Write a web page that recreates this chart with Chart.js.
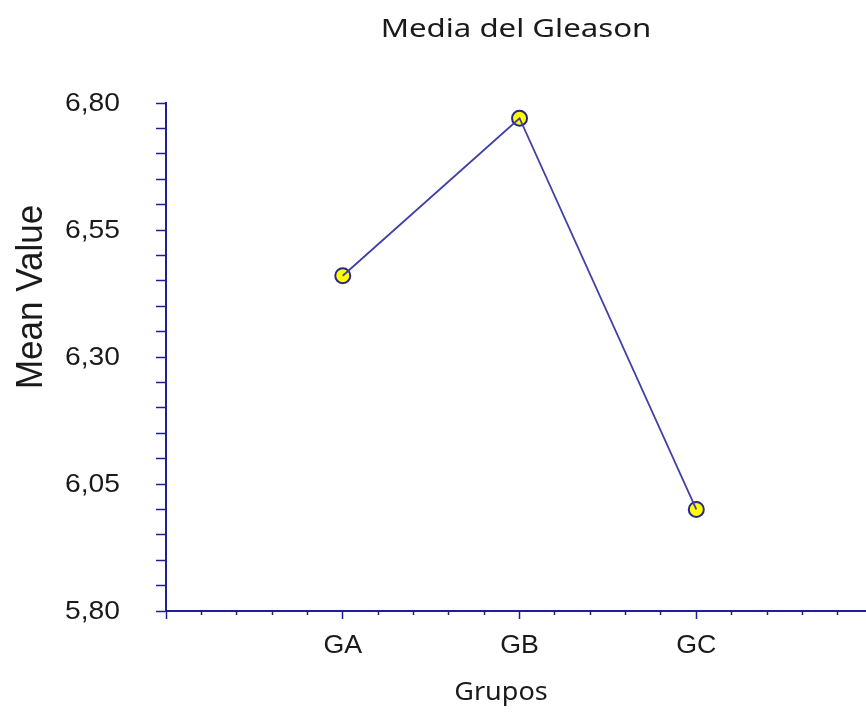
<!DOCTYPE html>
<html>
<head>
<meta charset="utf-8">
<title>Media del Gleason</title>
<script src="https://cdn.jsdelivr.net/npm/chart.js@4/dist/chart.umd.min.js"></script>
<style>
  html, body { margin: 0; padding: 0; background: #ffffff; }
  #wrap { width: 866px; height: 713px; position: relative; }
</style>
</head>
<body>
<div id="wrap"><canvas id="chart" width="866" height="713"></canvas></div>
<script>
// Chart text
const chartTitle = 'Media del Gleason';
const xAxisTitle = 'Grupos';
const yAxisTitle = 'Mean Value';

// Groups and their mean Gleason score
const categories = ['GA', 'GB', 'GC'];
const meanValues = [6.46, 6.77, 6.00];

// Y axis labelled ticks
const yTickValues = [5.80, 6.05, 6.30, 6.55, 6.80];
const yTickLabels = ['5,80', '6,05', '6,30', '6,55', '6,80'];

// Styling
const axisColor = '#1f1f94';
const lineColor = '#4040a8';
const markerFill = '#ffff00';
const markerEdge = '#26268c';
const textColor = '#1a1a1a';

// Category positions on the numeric x axis (GA = 1, GB = 2, GC = 3)
const points = categories.map((c, i) => ({ x: i + 1, y: meanValues[i] }));

// Draws a label with an optional horizontal stretch and rotation
function drawLabel(ctx, text, x, y, o) {
  ctx.save();
  ctx.font = o.font;
  ctx.fillStyle = textColor;
  ctx.textAlign = o.align || 'center';
  ctx.textBaseline = o.baseline || 'alphabetic';
  ctx.translate(x, y);
  ctx.scale(o.sx || 1, 1);
  if (o.rotate) ctx.rotate(o.rotate);
  ctx.fillText(text, 0, 0);
  ctx.restore();
}

const labelPlugin = {
  id: 'labels',
  afterDraw(chart) {
    const ctx = chart.ctx;
    const xs = chart.scales.x, ys = chart.scales.y;
    const area = chart.chartArea;

    drawLabel(ctx, chartTitle, (area.left + area.right) / 2, 37,
      { font: '26px "Noto Sans"', sx: 1.2 });

    yTickValues.forEach((v, i) => {
      drawLabel(ctx, yTickLabels[i], area.left - 46, ys.getPixelForValue(v) + 1,
        { font: '25px "Liberation Sans"', align: 'right', baseline: 'middle', sx: 1.13 });
    });

    categories.forEach((c, i) => {
      drawLabel(ctx, c, xs.getPixelForValue(i + 1), area.bottom + 42,
        { font: '25px "Liberation Sans"', sx: 1.07 });
    });

    drawLabel(ctx, xAxisTitle, 501, 700, { font: '25px "Noto Sans"', sx: 1.08 });

    drawLabel(ctx, yAxisTitle, 42, (area.top + area.bottom) / 2 - 60,
      { font: '35px "Liberation Sans"', sx: 1.08, rotate: -Math.PI / 2 });
  }
};

new Chart(document.getElementById('chart'), {
  type: 'line',
  data: {
    datasets: [
      {
        // connecting line, drawn above the markers
        data: points,
        borderColor: lineColor,
        borderWidth: 1.8,
        pointRadius: 0,
        fill: false,
        tension: 0,
        order: 0
      },
      {
        data: points,
        showLine: false,
        pointRadius: 7.5,
        pointBackgroundColor: markerFill,
        pointBorderColor: markerEdge,
        pointBorderWidth: 2,
        order: 1
      }
    ]
  },
  options: {
    responsive: false,
    animation: false,
    devicePixelRatio: 1,
    layout: { autoPadding: false, padding: { left: 156, top: 103, right: 0, bottom: 94 } },
    plugins: { legend: { display: false }, tooltip: { enabled: false }, title: { display: false } },
    scales: {
      x: {
        type: 'linear',
        min: 0,
        max: 3.96,
        afterBuildTicks(scale) {
          const t = [];
          for (let k = 0; k <= 19; k++) t.push({ value: k / 5 });
          scale.ticks = t;
        },
        ticks: { display: false },
        border: { display: true, color: axisColor, width: 2 },
        grid: {
          drawOnChartArea: false,
          drawTicks: true,
          tickLength: 8,
          tickWidth: 1.5,
          tickColor: axisColor,
          // short dashes leave minor ticks at 3px; whole-number ticks stay full length
          tickBorderDash: (c) => (Math.abs(c.tick.value - Math.round(c.tick.value)) < 1e-6 ? [] : [3, 20])
        }
      },
      y: {
        type: 'linear',
        min: 5.80,
        max: 6.80,
        afterBuildTicks(scale) {
          const t = [];
          for (let k = 0; k <= 20; k++) t.push({ value: Math.round((5.80 + k * 0.05) * 100) / 100 });
          scale.ticks = t;
        },
        ticks: { display: false },
        border: { display: true, color: axisColor, width: 2 },
        grid: {
          drawOnChartArea: false,
          drawTicks: true,
          tickLength: 10,
          tickWidth: 1.5,
          tickColor: axisColor
        }
      }
    }
  },
  plugins: [labelPlugin]
});
</script>
</body>
</html>
